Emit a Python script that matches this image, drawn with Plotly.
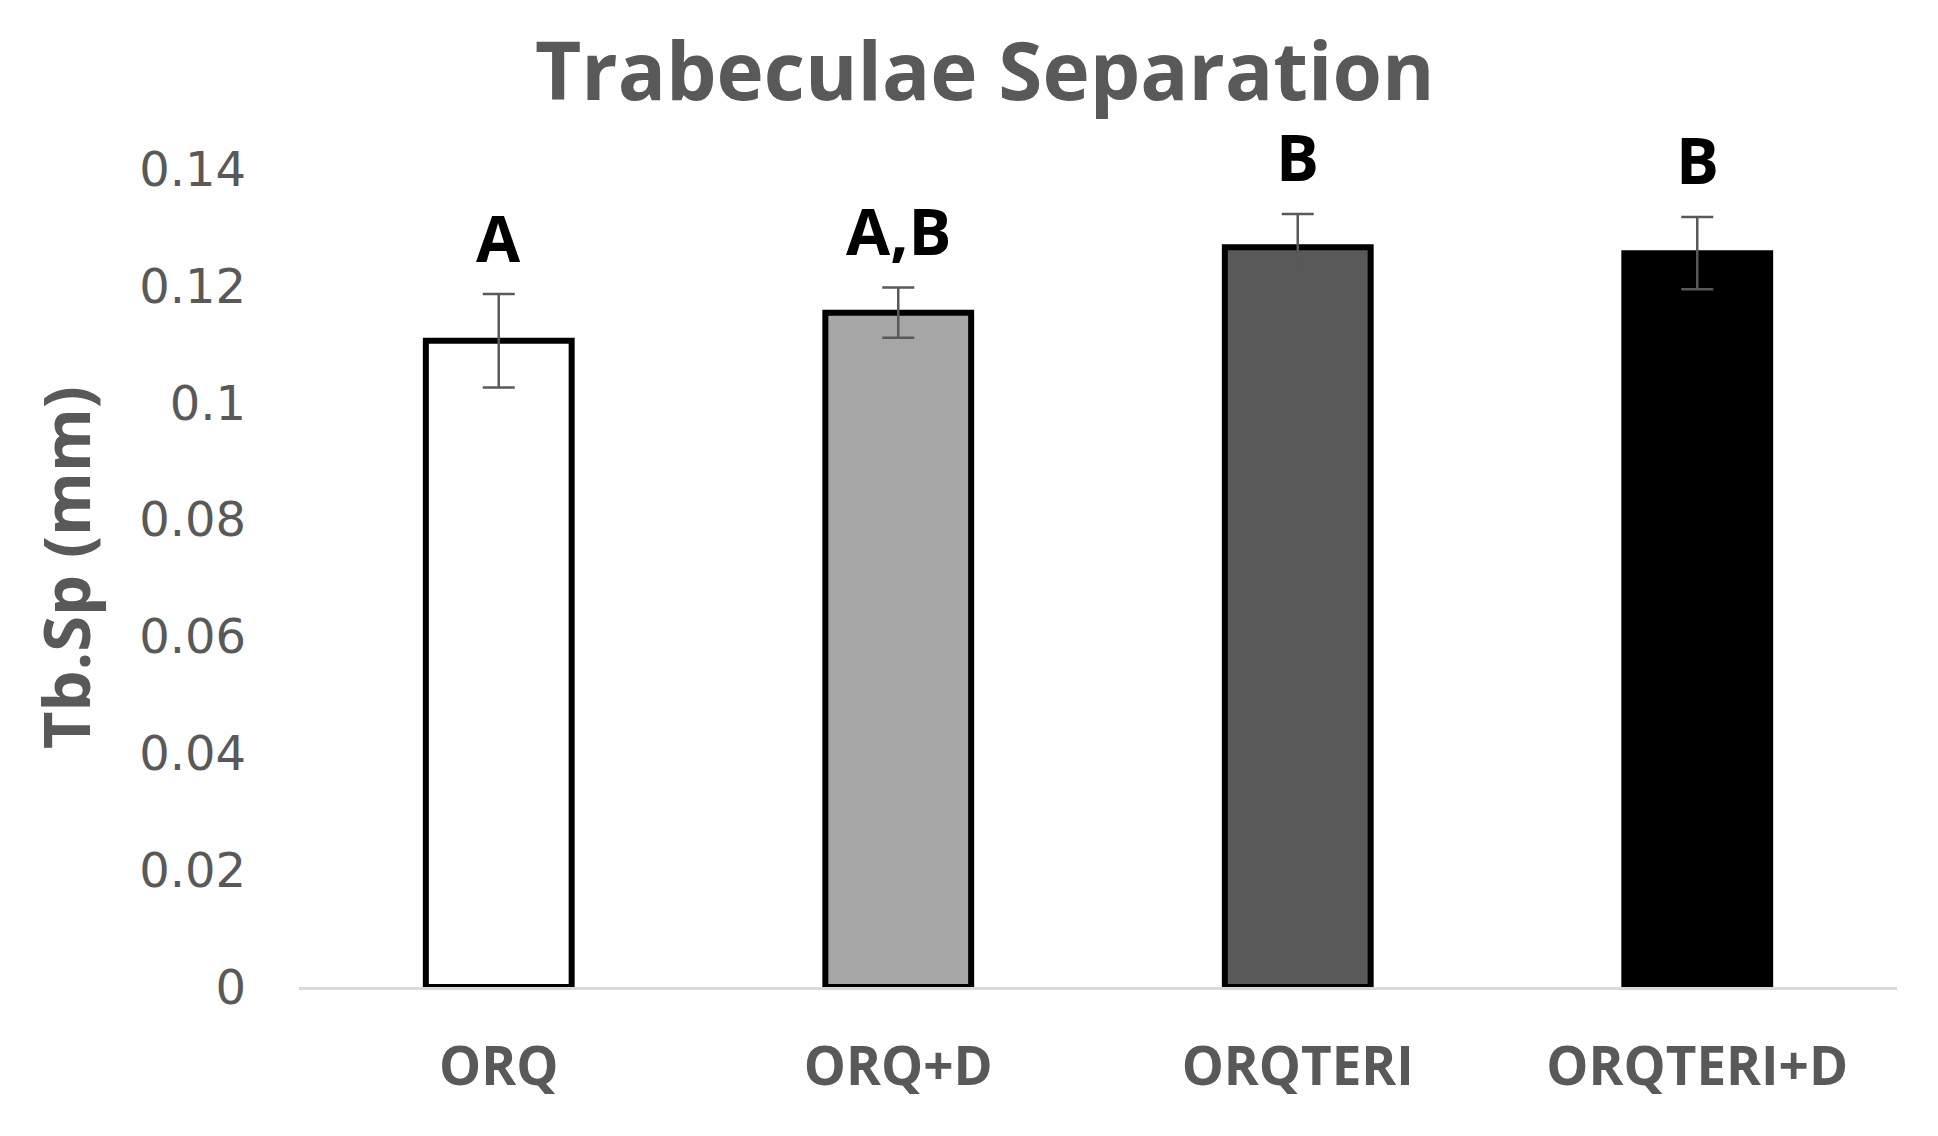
import plotly.graph_objs as go

groups = ['ORQ', 'ORQ+D', 'ORQTERI', 'ORQTERI+D']
tb_sp = [0.1106, 0.1154, 0.1266, 0.1256]
tb_sp_err = [0.0080, 0.0043, 0.0057, 0.0062]
letters = ['A', 'A,B', 'B', 'B']
bar_colors = ['#ffffff', '#a6a6a6', '#595959', '#000000']

ytick_vals = [0, 0.02, 0.04, 0.06, 0.08, 0.1, 0.12, 0.14]
ytick_text = ['0', '0.02', '0.04', '0.06', '0.08', '0.1', '0.12', '0.14']

grey = '#595959'

fig = go.Figure()
fig.add_trace(go.Bar(x=groups, y=tb_sp, width=0.365,
                     marker=dict(color=bar_colors, line=dict(color='#000000', width=6)),
                     error_y=dict(type='data', array=tb_sp_err, color=grey, thickness=2.5, width=16)))

for g, v, e, t in zip(groups, tb_sp, tb_sp_err, letters):
    fig.add_annotation(x=g, y=v + e, text='<b>' + t + '</b>', showarrow=False,
                       yanchor='middle', yshift=57,
                       font=dict(family='Open Sans', size=64, color='#000000'))

# y axis title as annotation so it sits where the original has it
fig.add_annotation(xref='paper', yref='paper', x=-0.146, y=0.513, text='<b>Tb.Sp (mm)</b>',
                   textangle=-90, showarrow=False, xanchor='center', yanchor='middle',
                   font=dict(family='Open Sans', size=65, color=grey))

# page body adds an 8px offset, margins compensate
fig.update_layout(
    width=1938, height=1136,
    margin=dict(l=291, r=49, t=161, b=157),
    plot_bgcolor='white', paper_bgcolor='white',
    showlegend=False,
    title=dict(text='<b>Trabeculae Separation</b>', x=0.504, xanchor='center',
               y=1 - 64 / 1136, yanchor='middle',
               font=dict(family='Open Sans', size=80, color=grey)),
    xaxis=dict(showline=True, linecolor='#d9d9d9', linewidth=3, showgrid=False, ticks='',
               tickfont=dict(family='Open Sans', size=53, color=grey), ticklabelstandoff=31,
               tickprefix='<b>', ticksuffix='</b>'),
    yaxis=dict(range=[0, 0.14], tickvals=ytick_vals, ticktext=ytick_text, showgrid=False,
               zeroline=False, showline=False, ticks='', ticklabelstandoff=52,
               tickfont=dict(family='DejaVu Sans', size=48, color=grey)),
)

fig.write_html("out.html")
